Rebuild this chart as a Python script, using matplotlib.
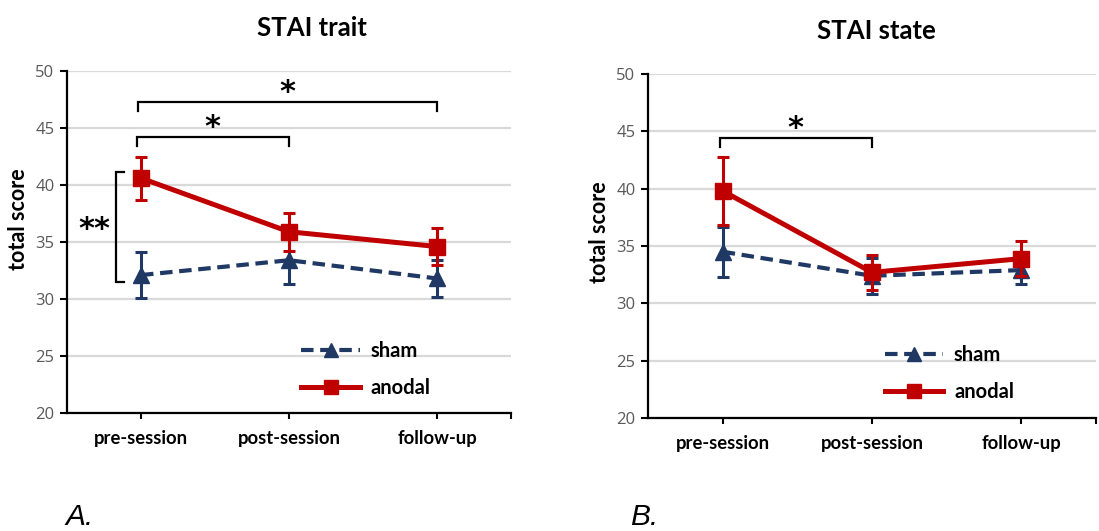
import matplotlib
matplotlib.use("Agg")
import matplotlib.pyplot as plt
from matplotlib.lines import Line2D

# ---------------- data ----------------
categories = ["pre-session", "post-session", "follow-up"]
yticks = [20, 25, 30, 35, 40, 45, 50]

trait_titles = "STAI trait"
trait_sham = [32.1, 33.4, 31.8]
trait_sham_err = [2.05, 2.1, 1.6]
trait_anodal = [40.6, 35.9, 34.6]
trait_anodal_err = [1.9, 1.65, 1.65]

state_titles = "STAI state"
state_sham = [34.5, 32.4, 32.9]
state_sham_err = [2.2, 1.55, 1.2]
state_anodal = [39.8, 32.7, 33.9]
state_anodal_err = [2.95, 1.5, 1.5]

series_labels = ["sham", "anodal"]
# significance brackets: (x_start, x_end, y, label)
trait_brackets = [(-0.03, 1.0, 44.2, "*"), (-0.02, 2.0, 47.25, "*")]
state_brackets = [(-0.02, 1.0, 44.4, "*")]
# vertical between-group bracket in panel A: (x, y_low, y_high, label)
trait_vbracket = (-0.17, 31.5, 41.1, "**")

# ---------------- style ----------------
RED = "#C00000"
NAVY = "#1F3864"
GRID = "#D9D9D9"
TICKGREY = "#595959"
FONT = ["Lato", "DejaVu Sans"]
NUMFONT = ["Open Sans", "DejaVu Sans"]
plt.rcParams["font.family"] = FONT

fig = plt.figure(figsize=(10.99, 5.31), dpi=100)
W, H = 1099, 531

def px_axes(left, right, top, bottom):
    return fig.add_axes([left / W, 1 - bottom / H, (right - left) / W, (bottom - top) / H])

axA = px_axes(67, 511, 71, 413)
axB = px_axes(648, 1096, 74, 418)

def style_axis(ax):
    ax.set_xlim(-0.5, 2.5)
    ax.set_ylim(20, 50)
    ax.set_yticks(yticks)
    ax.set_yticklabels([str(v) for v in yticks], color=TICKGREY, fontsize=12,
                       family=NUMFONT)
    ax.set_xticks([0, 1, 2, 2.5])
    ax.set_xticklabels(categories + [""], fontsize=13.3, fontweight="bold")
    ax.tick_params(axis="y", length=5, width=1.5, pad=4, direction="out")
    ax.tick_params(axis="x", length=4, width=1.5, pad=8, direction="out")
    for s in ["top", "right"]:
        ax.spines[s].set_visible(False)
    for s in ["left", "bottom"]:
        ax.spines[s].set_linewidth(1.6)
        ax.spines[s].set_color("black")
    ax.grid(axis="y", color=GRID, linewidth=1.6)
    ax.set_axisbelow(True)

x = list(range(len(categories)))
SHAM_LS = (0, (3, 1.6))

def draw_series(ax, sham, sham_err, anodal, anodal_err):
    ax.errorbar(x, sham, yerr=sham_err, color=NAVY, lw=3.0, ls=SHAM_LS,
                marker="^", markersize=11.5, elinewidth=2.2, capsize=4.3, capthick=2.2,
                zorder=3, clip_on=False)
    ax.errorbar(x, anodal, yerr=anodal_err, color=RED, lw=3.6,
                marker="s", markersize=11.5, elinewidth=2.2, capsize=4.3, capthick=2.2,
                zorder=4, clip_on=False)
    h1 = Line2D([], [], color=NAVY, lw=3.0, ls=SHAM_LS, marker="^", markersize=10)
    h2 = Line2D([], [], color=RED, lw=3.6, marker="s", markersize=10)
    return [h1, h2]

def draw_brackets(ax, brackets):
    for x0, x1, y, lab in brackets:
        ax.plot([x0, x0, x1, x1], [y - 0.75, y, y, y - 0.75], color="black", lw=1.6,
                solid_joinstyle="miter", zorder=5)
        ax.text((x0 + x1) / 2, y - 0.4, lab, ha="center", va="bottom", fontsize=22,
                fontweight="bold", family=["DejaVu Sans"], zorder=5)

for ax, title, sham, se, an, ae, br, tpos, lpos in [
    (axA, trait_titles, trait_sham, trait_sham_err, trait_anodal, trait_anodal_err,
     trait_brackets, (312, 28), (19, 219)),
    (axB, state_titles, state_sham, state_sham_err, state_anodal, state_anodal_err,
     state_brackets, (876, 31), (600, 232)),
]:
    style_axis(ax)
    handles = draw_series(ax, sham, se, an, ae)
    draw_brackets(ax, br)
    fig.text(tpos[0] / W, 1 - tpos[1] / H, title, ha="center", va="center",
             fontsize=18.5, fontweight="bold")
    fig.text(lpos[0] / W, 1 - lpos[1] / H, "total score", ha="center", va="center",
             rotation=90, fontsize=15.5, fontweight="bold")
    ax.legend(handles, series_labels, loc="upper left",
              bbox_to_anchor=(0.51, 0.235), frameon=False, handlelength=2.9,
              handletextpad=0.55, labelspacing=0.85, borderaxespad=0,
              prop={"family": FONT, "weight": "bold", "size": 14.5})

# vertical bracket in panel A
vx, vy0, vy1, vlab = trait_vbracket
axA.plot([vx + 0.055, vx, vx, vx + 0.055], [vy0, vy0, vy1, vy1], color="black", lw=1.6,
         solid_joinstyle="miter", clip_on=False, zorder=5)
axA.text(vx - 0.145, (vy0 + vy1) / 2 - 0.2, vlab, ha="center", va="center", fontsize=22,
         fontweight="bold", family=["DejaVu Sans"])

# panel letters
fig.text(65 / W, 1 - 503 / H, "A.", ha="left", va="top", fontsize=21.5, style="italic",
         family=["Liberation Sans", "DejaVu Sans"])
fig.text(630 / W, 1 - 503 / H, "B.", ha="left", va="top", fontsize=21.5, style="italic",
         family=["Liberation Sans", "DejaVu Sans"])

fig.savefig("out.png", dpi=100)
